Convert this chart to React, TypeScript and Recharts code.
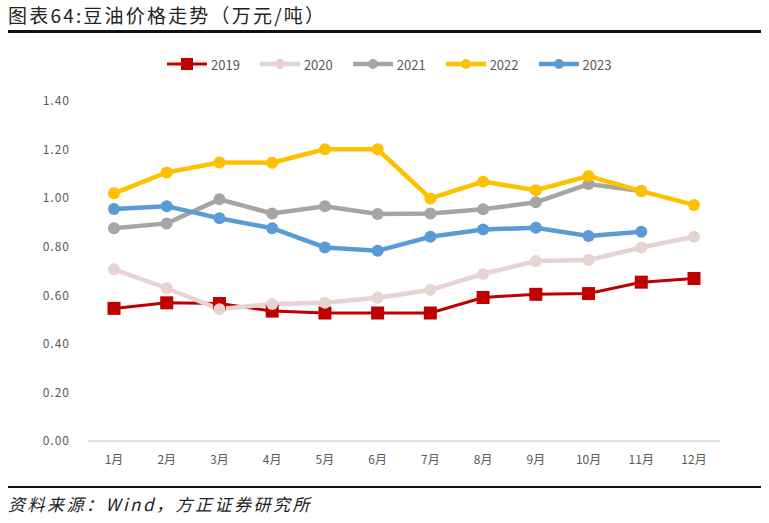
import React from 'react';
import { LineChart, Line, XAxis, YAxis, Legend } from 'recharts';

const months = ['1月', '2月', '3月', '4月', '5月', '6月', '7月', '8月', '9月', '10月', '11月', '12月'];
const y2019 = [0.546, 0.569, 0.566, 0.535, 0.527, 0.527, 0.527, 0.591, 0.604, 0.607, 0.654, 0.669];
const y2020 = [0.707, 0.629, 0.543, 0.564, 0.569, 0.590, 0.622, 0.688, 0.741, 0.745, 0.797, 0.841];
const y2021 = [0.876, 0.896, 0.995, 0.937, 0.967, 0.935, 0.937, 0.954, 0.983, 1.058, 1.029, null];
const y2022 = [1.020, 1.106, 1.147, 1.146, 1.201, 1.201, 0.999, 1.068, 1.033, 1.091, 1.029, 0.972];
const y2023 = [0.955, 0.967, 0.917, 0.876, 0.797, 0.783, 0.841, 0.871, 0.878, 0.844, 0.862, null];
const yTicks = [0, 0.2, 0.4, 0.6, 0.8, 1.0, 1.2, 1.4];

const seriesDefs = [
  { key: 'y2019', name: '2019', color: '#C00000', width: 3, square: true },
  { key: 'y2020', name: '2020', color: '#E8D3D3', width: 4.5, square: false },
  { key: 'y2021', name: '2021', color: '#A5A5A5', width: 4.5, square: false },
  { key: 'y2022', name: '2022', color: '#FFC000', width: 4.5, square: false },
  { key: 'y2023', name: '2023', color: '#5B9BD5', width: 4.5, square: false },
];

const data = months.map((m, i) => ({
  month: m,
  y2019: y2019[i],
  y2020: y2020[i],
  y2021: y2021[i],
  y2022: y2022[i],
  y2023: y2023[i],
}));

const cjk = '"Noto Sans CJK SC", "Noto Sans", sans-serif';

const SquareDot = (props: any) => {
  const { cx, cy, index } = props;
  if (cx == null || cy == null) return <g key={index} />;
  return <rect key={index} x={cx - 6.5} y={cy - 6.5} width={13} height={13} fill="#C00000" />;
};

const LegendContent = () => (
  <div style={{ display: 'flex', justifyContent: 'flex-start', paddingLeft: 167, fontFamily: cjk, fontSize: 13, color: '#595959', height: 16 }}>
    {seriesDefs.map((s) => (
      <div key={s.key} style={{ display: 'flex', alignItems: 'center', marginRight: 20 }}>
        <svg width={40} height={14}>
          <line x1={0} y1={7} x2={40} y2={7} stroke={s.color} strokeWidth={s.width} />
          {s.square ? (
            <rect x={14} y={1} width={12} height={12} fill={s.color} />
          ) : (
            <circle cx={20} cy={7} r={5} fill={s.color} />
          )}
        </svg>
        <span style={{ marginLeft: 4 }}>{s.name}</span>
      </div>
    ))}
  </div>
);

export default function App() {
  return (
    <div style={{ position: 'absolute', left: 0, top: 0, width: 769, height: 523, background: '#fff' }}>
      <div style={{ position: 'absolute', left: 8, top: 1, fontFamily: cjk, fontSize: 19, letterSpacing: 2.2, color: '#222', whiteSpace: 'nowrap' }}>
        图表64:豆油价格走势（万元/吨）
      </div>
      <div style={{ position: 'absolute', left: 8, top: 30, width: 753, height: 3, background: '#111' }} />
      <div style={{ position: 'absolute', left: 8, top: 486, width: 753, height: 2, background: '#111' }} />
      <div style={{ position: 'absolute', left: 8, top: 491, fontFamily: cjk, fontSize: 17, letterSpacing: 2.5, fontStyle: 'italic', color: '#222', whiteSpace: 'nowrap' }}>
        资料来源：Wind，方正证券研究所
      </div>
      <div style={{ position: 'absolute', left: 0, top: 0 }}>
        <LineChart width={769} height={523} data={data} margin={{ top: 85, right: 49, bottom: 52, left: 0 }}>
          <XAxis
            dataKey="month"
            axisLine={{ stroke: '#D9D9D9', strokeWidth: 1.5 }}
            tickLine={false}
            tick={{ fontSize: 12, fill: '#595959', fontFamily: cjk }}
            tickMargin={8}
            height={30}
            interval={0}
            padding={{ left: 26, right: 26 }}
          />
          <YAxis
            domain={[0, 1.4]}
            ticks={yTicks}
            axisLine={false}
            tickLine={false}
            width={88}
            tickMargin={12}
            tick={{ fontSize: 12, fill: '#595959', fontFamily: cjk, letterSpacing: 1 }}
            tickFormatter={(v: number) => v.toFixed(2)}
          />
          <Legend verticalAlign="top" wrapperStyle={{ top: 56, left: 0, width: 769 }} content={LegendContent} />
          {seriesDefs.map((s) => (
            <Line
              key={s.key}
              type="linear"
              dataKey={s.key}
              name={s.name}
              stroke={s.color}
              strokeWidth={s.width}
              dot={s.square ? SquareDot : { r: 6, fill: s.color, stroke: 'none' }}
              activeDot={false}
              isAnimationActive={false}
            />
          ))}
        </LineChart>
      </div>
    </div>
  );
}
